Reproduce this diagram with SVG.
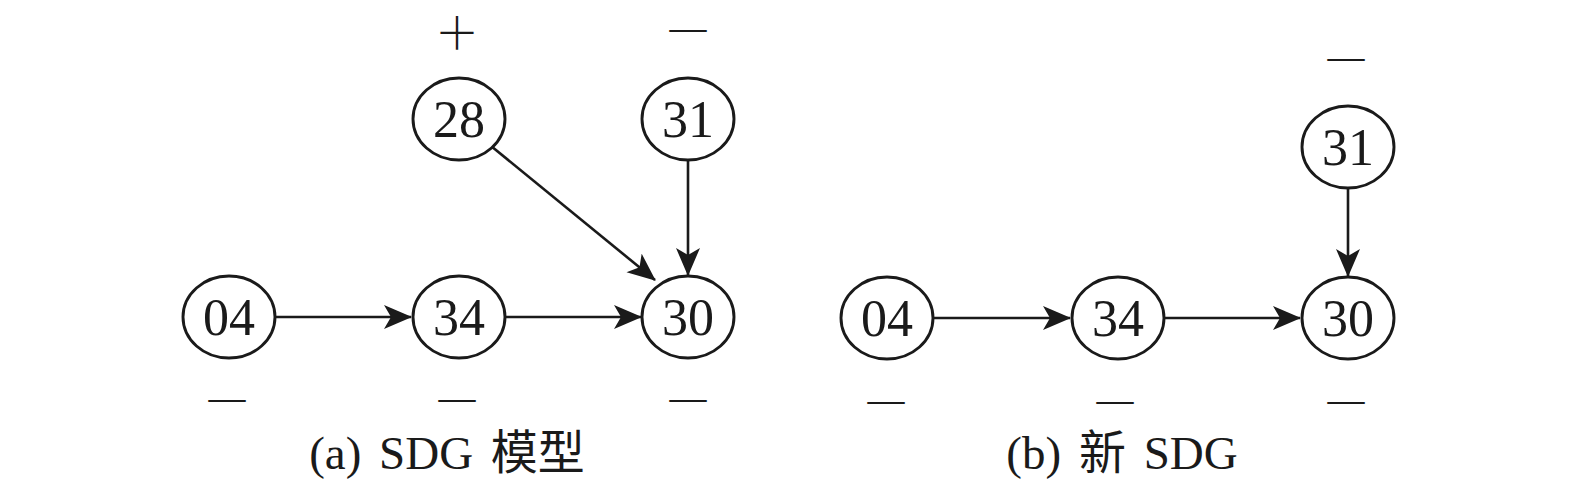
<svg xmlns="http://www.w3.org/2000/svg" width="1575" height="492" viewBox="0 0 1575 492">
<style>
.n ellipse{fill:#fff;stroke:#1a1a1a;stroke-width:2.9}
.t{font-family:"Liberation Serif","Noto Sans CJK SC",serif;font-size:52px;fill:#1a1a1a;text-anchor:middle}
.s{font-family:"Liberation Serif",serif;font-size:37px;fill:#1a1a1a;text-anchor:middle}
.p{font-family:"Noto Sans CJK SC",sans-serif;font-weight:300;font-size:45px;fill:#1a1a1a;text-anchor:middle}
.c{font-family:"Liberation Serif","Noto Sans CJK SC",serif;font-size:47px;fill:#1a1a1a;text-anchor:middle;word-spacing:6px}
.e{stroke:#1a1a1a;stroke-width:2.6;fill:none;marker-end:url(#ah)}
</style>
<defs>
<marker id="ah" markerUnits="userSpaceOnUse" markerWidth="30" markerHeight="26" refX="27" refY="12" orient="auto">
<path d="M0,0 L28,12 L0,24 L7,12 z" fill="#1a1a1a"/>
</marker>
</defs>
<rect width="1575" height="492" fill="#fff"/>
<g id="connectors">
<line class="e" x1="275" y1="317" x2="411" y2="317"/>
<line class="e" x1="505" y1="317" x2="641" y2="317"/>
<line class="e" x1="491" y1="146" x2="655" y2="280"/>
<line class="e" x1="688" y1="160" x2="688" y2="275"/>
<line class="e" x1="933" y1="318" x2="1070" y2="318"/>
<line class="e" x1="1164" y1="318" x2="1300" y2="318"/>
<line class="e" x1="1348" y1="188" x2="1348" y2="276"/>
</g>
<g id="a04" class="n"><ellipse cx="229" cy="317" rx="46" ry="41"/><text class="t" x="229" y="335">04</text></g>
<g id="a34" class="n"><ellipse cx="459" cy="317" rx="46" ry="41"/><text class="t" x="459" y="335">34</text></g>
<g id="a30" class="n"><ellipse cx="688" cy="317" rx="46" ry="41"/><text class="t" x="688" y="335">30</text></g>
<g id="a28" class="n"><ellipse cx="459" cy="119" rx="46" ry="41"/><text class="t" x="459" y="137">28</text></g>
<g id="a31" class="n"><ellipse cx="688" cy="119" rx="46" ry="41"/><text class="t" x="688" y="137">31</text></g>
<g id="b04" class="n"><ellipse cx="887" cy="318" rx="46" ry="41"/><text class="t" x="887" y="336">04</text></g>
<g id="b34" class="n"><ellipse cx="1118" cy="318" rx="46" ry="41"/><text class="t" x="1118" y="336">34</text></g>
<g id="b30" class="n"><ellipse cx="1348" cy="318" rx="46" ry="41"/><text class="t" x="1348" y="336">30</text></g>
<g id="b31" class="n"><ellipse cx="1348" cy="147" rx="46" ry="41"/><text class="t" x="1348" y="165">31</text></g>
<g id="signs">
<text class="p" x="457" y="50">＋</text>
<text class="s" x="688" y="40">—</text>
<text class="s" x="227" y="410">—</text>
<text class="s" x="457" y="410">—</text>
<text class="s" x="688" y="410">—</text>
<text class="s" x="1346" y="69">—</text>
<text class="s" x="886" y="412">—</text>
<text class="s" x="1115" y="412">—</text>
<text class="s" x="1346" y="412">—</text>
</g>
<text class="c" x="447" y="469">(a) SDG 模型</text>
<text class="c" x="1122" y="469">(b) 新 SDG</text>
</svg>
